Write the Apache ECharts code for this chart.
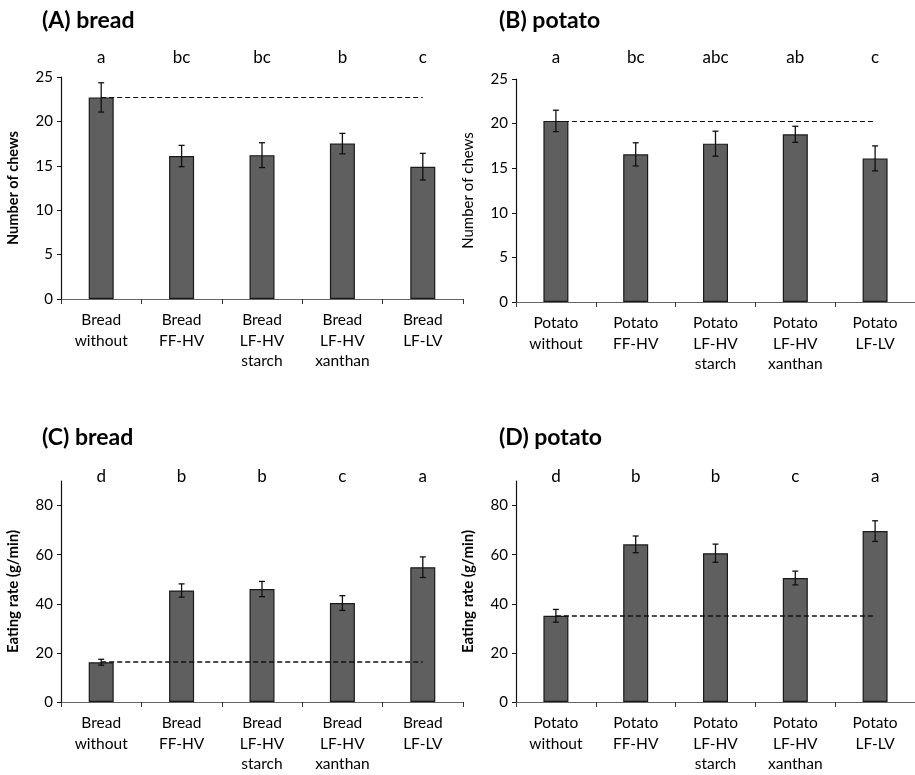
<!DOCTYPE html>
<html>
<head>
<meta charset="utf-8">
<script src="https://cdn.jsdelivr.net/npm/echarts@6/dist/echarts.min.js"></script>
<style>html,body{margin:0;padding:0;background:#fff}#c{width:915px;height:775px}</style>
</head>
<body>
<div id="c"></div>
<script>
// ---- data ----
const categoriesBread = ['Bread\nwithout', 'Bread\nFF-HV', 'Bread\nLF-HV\nstarch', 'Bread\nLF-HV\nxanthan', 'Bread\nLF-LV'];
const categoriesPotato = ['Potato\nwithout', 'Potato\nFF-HV', 'Potato\nLF-HV\nstarch', 'Potato\nLF-HV\nxanthan', 'Potato\nLF-LV'];

const lettersA = ['a', 'bc', 'bc', 'b', 'c'];
const lettersB = ['a', 'bc', 'abc', 'ab', 'c'];
const lettersC = ['d', 'b', 'b', 'c', 'a'];
const lettersD = ['d', 'b', 'b', 'c', 'a'];

const chewsBread = [22.7, 16.1, 16.2, 17.5, 14.9];
const chewsBreadErr = [1.65, 1.2, 1.4, 1.15, 1.5];
const chewsPotato = [20.3, 16.55, 17.75, 18.8, 16.1];
const chewsPotatoErr = [1.2, 1.3, 1.4, 0.9, 1.4];
const rateBread = [16.2, 45.4, 46.0, 40.3, 54.9];
const rateBreadErr = [1.2, 2.7, 3.1, 3.0, 4.2];
const ratePotato = [35.1, 64.2, 60.6, 50.5, 69.6];
const ratePotatoErr = [2.6, 3.4, 3.7, 2.8, 4.2];

const yTicksChews = [0, 5, 10, 15, 20, 25];
const yTicksRate = [0, 20, 40, 60, 80];

const titles = ['(A) bread', '(B) potato', '(C) bread', '(D) potato'];
const yNameChews = 'Number of chews';
const yNameRate = 'Eating rate (g/min)';

// ---- layout ----
const FONT = 'Lato, "Open Sans", sans-serif';
const panels = [
  {title: titles[0], cats: categoriesBread, letters: lettersA, vals: chewsBread, err: chewsBreadErr, ticks: yTicksChews, max: 25, yName: yNameChews, yBold: true, nameSize: 14.5,
   grid: {left: 61, top: 77, width: 402, height: 222}, tx: 42, ty: 9, letterMargin: 11},
  {title: titles[1], cats: categoriesPotato, letters: lettersB, vals: chewsPotato, err: chewsPotatoErr, ticks: yTicksChews, max: 25, yName: yNameChews, yBold: false, nameSize: 15,
   grid: {left: 516, top: 79, width: 399, height: 223}, tx: 499, ty: 9, letterMargin: 13},
  {title: titles[2], cats: categoriesBread, letters: lettersC, vals: rateBread, err: rateBreadErr, ticks: yTicksRate, max: 90, yName: yNameRate, yBold: true, nameSize: 15,
   grid: {left: 61, top: 481, width: 402, height: 221}, tx: 42, ty: 426, letterMargin: -4},
  {title: titles[3], cats: categoriesPotato, letters: lettersD, vals: ratePotato, err: ratePotatoErr, ticks: yTicksRate, max: 90, yName: yNameRate, yBold: true, nameSize: 15,
   grid: {left: 516, top: 481, width: 399, height: 221}, tx: 499, ty: 426, letterMargin: -4}
];

const option = {
  animation: false,
  textStyle: {fontFamily: FONT},
  title: [], grid: [], xAxis: [], yAxis: [], series: []
};

panels.forEach((p, i) => {
  option.title.push({text: p.title, left: p.tx, top: p.ty, padding: 0,
    textStyle: {fontFamily: FONT, fontSize: 23, fontWeight: 'bold', color: '#000'}});
  option.grid.push(Object.assign({containLabel: false}, p.grid));
  // bottom category axis
  option.xAxis.push({
    type: 'category', gridIndex: i, data: p.cats, position: 'bottom',
    axisLine: {lineStyle: {color: '#666', width: 1.2}},
    axisTick: {show: true, length: 5, lineStyle: {color: '#333'}},
    axisLabel: {interval: 0, margin: 11, fontSize: 15.5, fontWeight: 'normal',
      lineHeight: 20.5, color: '#000', fontFamily: FONT}
  });
  // top axis carrying significance letters
  option.xAxis.push({
    type: 'category', gridIndex: i, data: p.letters, position: 'top',
    axisLine: {show: false}, axisTick: {show: false},
    axisLabel: {interval: 0, margin: p.letterMargin, fontSize: 17, color: '#000', fontFamily: FONT}
  });
  option.yAxis.push({
    type: 'value', gridIndex: i, min: 0, max: p.max,
    name: p.yName, nameLocation: 'middle', nameRotate: 90, nameGap: 40,
    nameTextStyle: {fontFamily: FONT, fontSize: p.nameSize, fontWeight: p.yBold ? 'bold' : 'normal', color: '#000'},
    splitLine: {show: false},
    axisLine: {show: true, lineStyle: {color: '#111', width: 1.2}},
    axisTick: {show: true, length: 4, lineStyle: {color: '#111'}, customValues: p.ticks},
    axisLabel: {fontSize: 15, color: '#000', margin: 8, fontFamily: FONT, customValues: p.ticks}
  });

  option.series.push({
    type: 'bar', xAxisIndex: i * 2, yAxisIndex: i, data: p.vals, barWidth: 25,
    itemStyle: {color: '#5f5f5f', borderColor: '#1a1a1a', borderWidth: 1.2},
    z: 2,
    markLine: {
      silent: true, symbol: ['none', 'none'], label: {show: false},
      lineStyle: {type: [5, 3], color: '#111', width: i >= 2 ? 1.6 : 1.1},
      data: [[{coord: [0, p.vals[0]]}, {coord: [p.vals.length - 1, p.vals[0]]}]],
      z: 5
    }
  });
  option.series.push({
    type: 'custom', xAxisIndex: i * 2, yAxisIndex: i, z: 4,
    data: p.vals.map((v, k) => [k, v - p.err[k], v + p.err[k]]),
    renderItem: function (params, api) {
      const x = api.value(0);
      const lo = api.coord([x, api.value(1)]);
      const hi = api.coord([x, api.value(2)]);
      const hw = 3;
      const st = {stroke: '#111', lineWidth: 1.3};
      return {type: 'group', children: [
        {type: 'line', shape: {x1: lo[0], y1: lo[1], x2: hi[0], y2: hi[1]}, style: st},
        {type: 'line', shape: {x1: hi[0] - hw, y1: hi[1], x2: hi[0] + hw, y2: hi[1]}, style: st},
        {type: 'line', shape: {x1: lo[0] - hw, y1: lo[1], x2: lo[0] + hw, y2: lo[1]}, style: st}
      ]};
    }
  });
});

const chart = echarts.init(document.getElementById('c'), null, {renderer: 'canvas'});
chart.setOption(option);
</script>
</body>
</html>
